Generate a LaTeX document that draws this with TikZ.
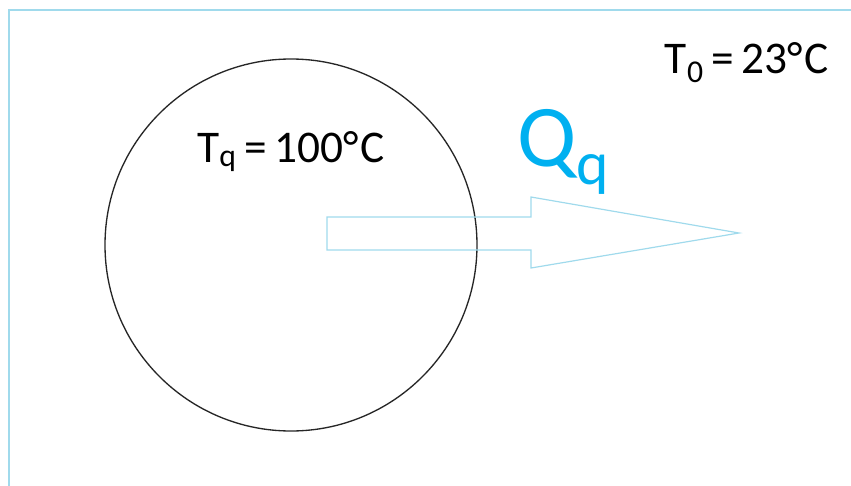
\documentclass[tikz,border=0pt]{standalone}
\usepackage{fontspec}
\setmainfont{Carlito}
\definecolor{rahmen}{RGB}{160,218,236}
\definecolor{waerme}{RGB}{0,176,240}

\tikzset{
    kugel/.style={circle, draw=black!85, line width=1pt, minimum size=279pt, inner sep=0pt},
    temp/.style={font=\fontsize{34}{40}\selectfont, inner sep=0pt, anchor=base},
    pfeil/.style={draw=rahmen, line width=0.9pt}
}

\begin{document}
\begin{tikzpicture}[x=0.75pt, y=-0.75pt]
    \useasboundingbox (0,0) rectangle (851,486);
    \draw[rahmen, line width=1.6pt] (9,486) -- (9,10) -- (851,10);
    \path node[kugel] (K) at (291,245) {}
        node[temp] (Tq) at (291,162) {T\textsubscript{q}\,=\,100°\kern1.5pt C}
        node[temp] (T0) at (747,73) {T\textsubscript{0}\,=\,23°\kern1.5pt C}
        node[font=\fontsize{66}{72}\selectfont, text=waerme, inner sep=0pt, anchor=base west] (Q) at (517,166) {Q\textsubscript{q}};
    % Waermestrom
    \draw[pfeil] (327,217) -- (531,217) -- (531,197) -- (739,233)
        -- (531,268) -- (531,250) -- (327,250) -- cycle;
\end{tikzpicture}
\end{document}
